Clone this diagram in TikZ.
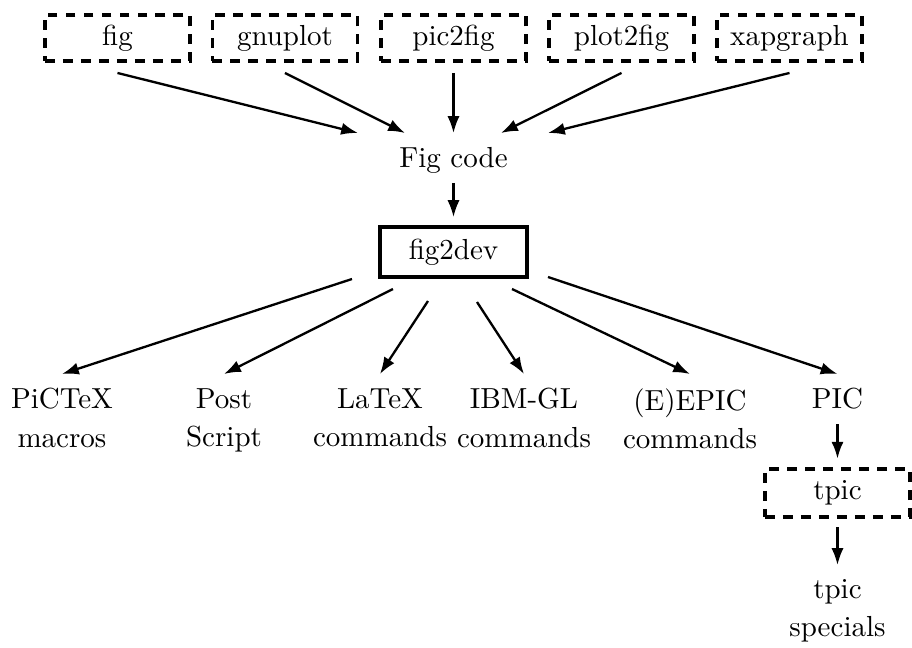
\documentclass[tikz,border=0pt]{standalone}
\usetikzlibrary{arrows.meta}
\begin{document}
\begin{tikzpicture}[x=0.3448pt,y=-0.3448pt,
  font=\fontsize{10}{13.2}\selectfont,
  dbox/.style={draw,line width=1.15pt,dash pattern=on 3.4pt off 2.8pt,minimum width=50pt,minimum height=15.9pt,inner sep=0pt,outer ysep=4.1pt},
  sbox/.style={draw,line width=1.15pt,minimum width=50.7pt,minimum height=17.2pt,inner sep=0pt,outer ysep=3.45pt},
  lbl/.style={align=center,inner xsep=0pt,inner ysep=4.8pt,anchor=north},
  arr/.style={-{Latex[length=5.8pt,width=4.2pt]},line width=0.8pt}]
\useasboundingbox (0,0) rectangle (912,648);
% top row
\node[dbox] (fig) at (117.5,38) {fig};
\node[dbox] (gnuplot) at (285,38) {gnuplot};
\node[dbox] (pictwofig) at (453.5,38) {pic2fig};
\node[dbox] (plottwofig) at (621.5,38) {plot2fig};
\node[dbox] (xapgraph) at (789.5,38) {xapgraph};
% fig code
\node[inner xsep=0pt,inner ysep=3.2pt] (figcode) at (453.5,160) {Fig code};
\coordinate (h1) at (358,133);
\coordinate (h2) at (405,133);
\coordinate (h3) at (453.5,133);
\coordinate (h4) at (501,133);
\coordinate (h5) at (548,133);
\draw[arr] (fig.south) -- (h1);
\draw[arr] (gnuplot.south) -- (h2);
\draw[arr] (pictwofig.south) -- (h3);
\draw[arr] (plottwofig.south) -- (h4);
\draw[arr] (xapgraph.south) -- (h5);
% fig2dev
\node[sbox] (figtwodev) at (453.5,252) {fig2dev};
\draw[arr] (figcode.south) -- (figtwodev.north);
% outputs
\node[lbl] (pictex) at (62,374) {PiCTeX\\macros};
\node[lbl] (post) at (224,374) {Post\\Script};
\node[lbl] (latex) at (380,374) {LaTeX\\commands};
\node[lbl] (ibmgl) at (524,374) {IBM-GL\\commands};
\node[lbl] (epic) at (690,374) {(E)EPIC\\commands};
\node[lbl] (pic) at (837.5,374) {PIC};
\coordinate (t1) at (352,279);
\coordinate (t2) at (393,289);
\coordinate (t3) at (428,301);
\coordinate (t4) at (477,302);
\coordinate (t5) at (512,289);
\coordinate (t6) at (548,277);
\draw[arr] (t1) -- (pictex.north);
\draw[arr] (t2) -- (post.north);
\draw[arr] (t3) -- (latex.north);
\draw[arr] (t4) -- (ibmgl.north);
\draw[arr] (t5) -- (epic.north);
\draw[arr] (t6) -- (pic.north);
% tpic
\node[dbox,minimum height=16.5pt,outer ysep=3.6pt] (tpic) at (837.5,493) {tpic};
\draw[arr] (pic.south) -- (tpic.north);
\node[lbl] (specials) at (837.5,565) {tpic\\specials};
\draw[arr] (tpic.south) -- (specials.north);
\end{tikzpicture}
\end{document}
